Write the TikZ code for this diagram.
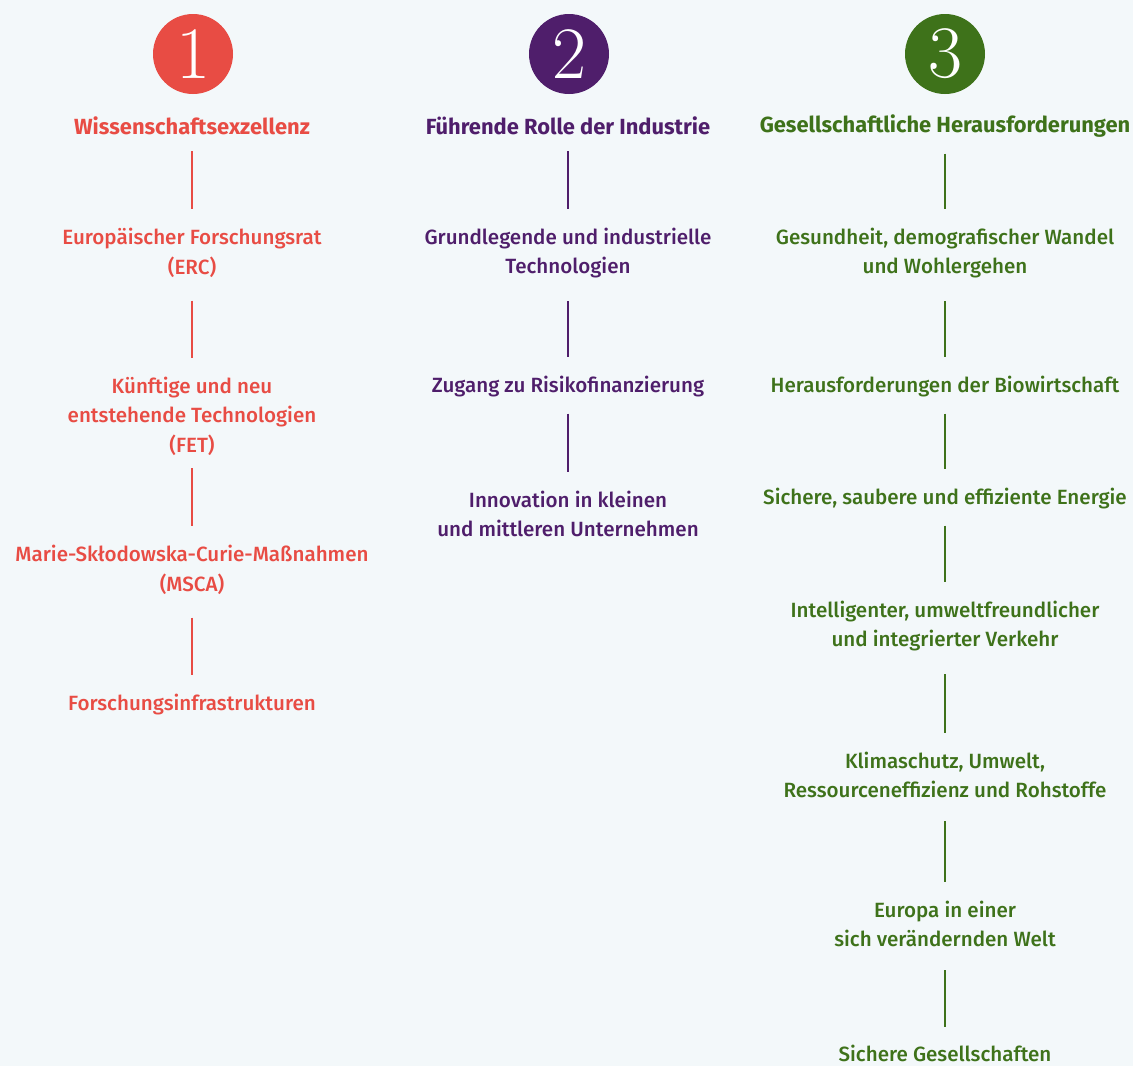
\documentclass[tikz,border=0pt]{standalone}
\usepackage{fontspec}
\setsansfont{Fira Sans}[UprightFont={* Medium}, BoldFont={* Bold}]
\usetikzlibrary{positioning}
\definecolor{pillarA}{RGB}{232,76,68}
\definecolor{pillarB}{RGB}{79,30,107}
\definecolor{pillarC}{RGB}{62,114,26}
\definecolor{paper}{RGB}{243,248,250}

\begin{document}
\begin{tikzpicture}[x=1pt,y=-1pt]
\tikzset{
    item/.style={align=center, inner sep=0pt, font=\sffamily\fontsize{20.6}{29.5}\selectfont},
    head/.style={item, font=\sffamily\bfseries\fontsize{21.9}{29.5}\selectfont},
    num/.style={circle, fill=#1, minimum size=80pt, inner sep=0pt, text=white, font=\rmfamily\fontsize{74}{74}\selectfont},
    link/.style={line width=2pt, shorten <=16pt, shorten >=19pt},
    tall/.style={shorten <=23pt}
}
\fill[paper] (0,0) rectangle (1133,1066);
\useasboundingbox (0,0) rectangle (1133,1066);

% Pillar 1
\node[num=pillarA] (numA) at (193,54) {1};
\node[head, text=pillarA] (headA) at (192,126) {Wissenschaftsexzellenz};
\node[item, text=pillarA] (erc) at (192,253) {Europäischer Forschungsrat\\(ERC)};
\node[item, text=pillarA] (fet) at (192,416) {Künftige und neu\\entstehende Technologien\\(FET)};
\node[item, text=pillarA] (msca) at (192,570) {Marie-Skłodowska-Curie-Maßnahmen\\(MSCA)};
\node[item, text=pillarA] (infra) at (192,705) {Forschungsinfrastrukturen};

% Pillar 2
\node[num=pillarB] (numB) at (569,54) {2};
\node[head, text=pillarB] (headB) at (568,126) {Führende Rolle der Industrie};
\node[item, text=pillarB] (tech) at (568,253) {Grundlegende und industrielle\\Technologien};
\node[item, text=pillarB] (risk) at (568,387) {Zugang zu Risikofinanzierung};
\node[item, text=pillarB] (kmu) at (568,514) {Innovation in kleinen\\und mittleren Unternehmen};

% Pillar 3
\node[num=pillarC] (numC) at (945,54) {3};
\node[head, text=pillarC] (headC) at (945,126) {Gesellschaftliche Herausforderungen};
\node[item, text=pillarC] (health) at (945,253) {Gesundheit, demografischer Wandel\\und Wohlergehen};
\node[item, text=pillarC] (bio) at (945,387) {Herausforderungen der Biowirtschaft};
\node[item, text=pillarC] (energy) at (945,499) {Sichere, saubere und effiziente Energie};
\node[item, text=pillarC] (transport) at (945,626) {Intelligenter, umweltfreundlicher\\und integrierter Verkehr};
\node[item, text=pillarC] (climate) at (945,775) {Klimaschutz, Umwelt,\\Ressourceneffizienz und Rohstoffe};
\node[item, text=pillarC] (world) at (945,924) {Europa in einer\\sich verändernden Welt};
\node[item, text=pillarC] (secure) at (945,1053) {Sichere Gesellschaften};

% Links
\draw[link, pillarA] (headA) -- (erc);
\draw[link, tall, pillarA] (erc) -- (fet);
\draw[link, shorten <=13pt, pillarA] (fet) -- (msca);
\draw[link, tall, pillarA] (msca) -- (infra);

\draw[link, pillarB] (headB) -- (tech);
\draw[link, tall, pillarB] (tech) -- (risk);
\draw[link, pillarB] (risk) -- (kmu);

\draw[link, pillarC] (headC) -- (health);
\draw[link, tall, pillarC] (health) -- (bio);
\draw[link, pillarC] (bio) -- (energy);
\draw[link, pillarC] (energy) -- (transport);
\draw[link, tall, pillarC] (transport) -- (climate);
\draw[link, tall, pillarC] (climate) -- (world);
\draw[link, shorten <=23pt, shorten >=17pt, pillarC] (world) -- (secure);
\end{tikzpicture}
\end{document}
